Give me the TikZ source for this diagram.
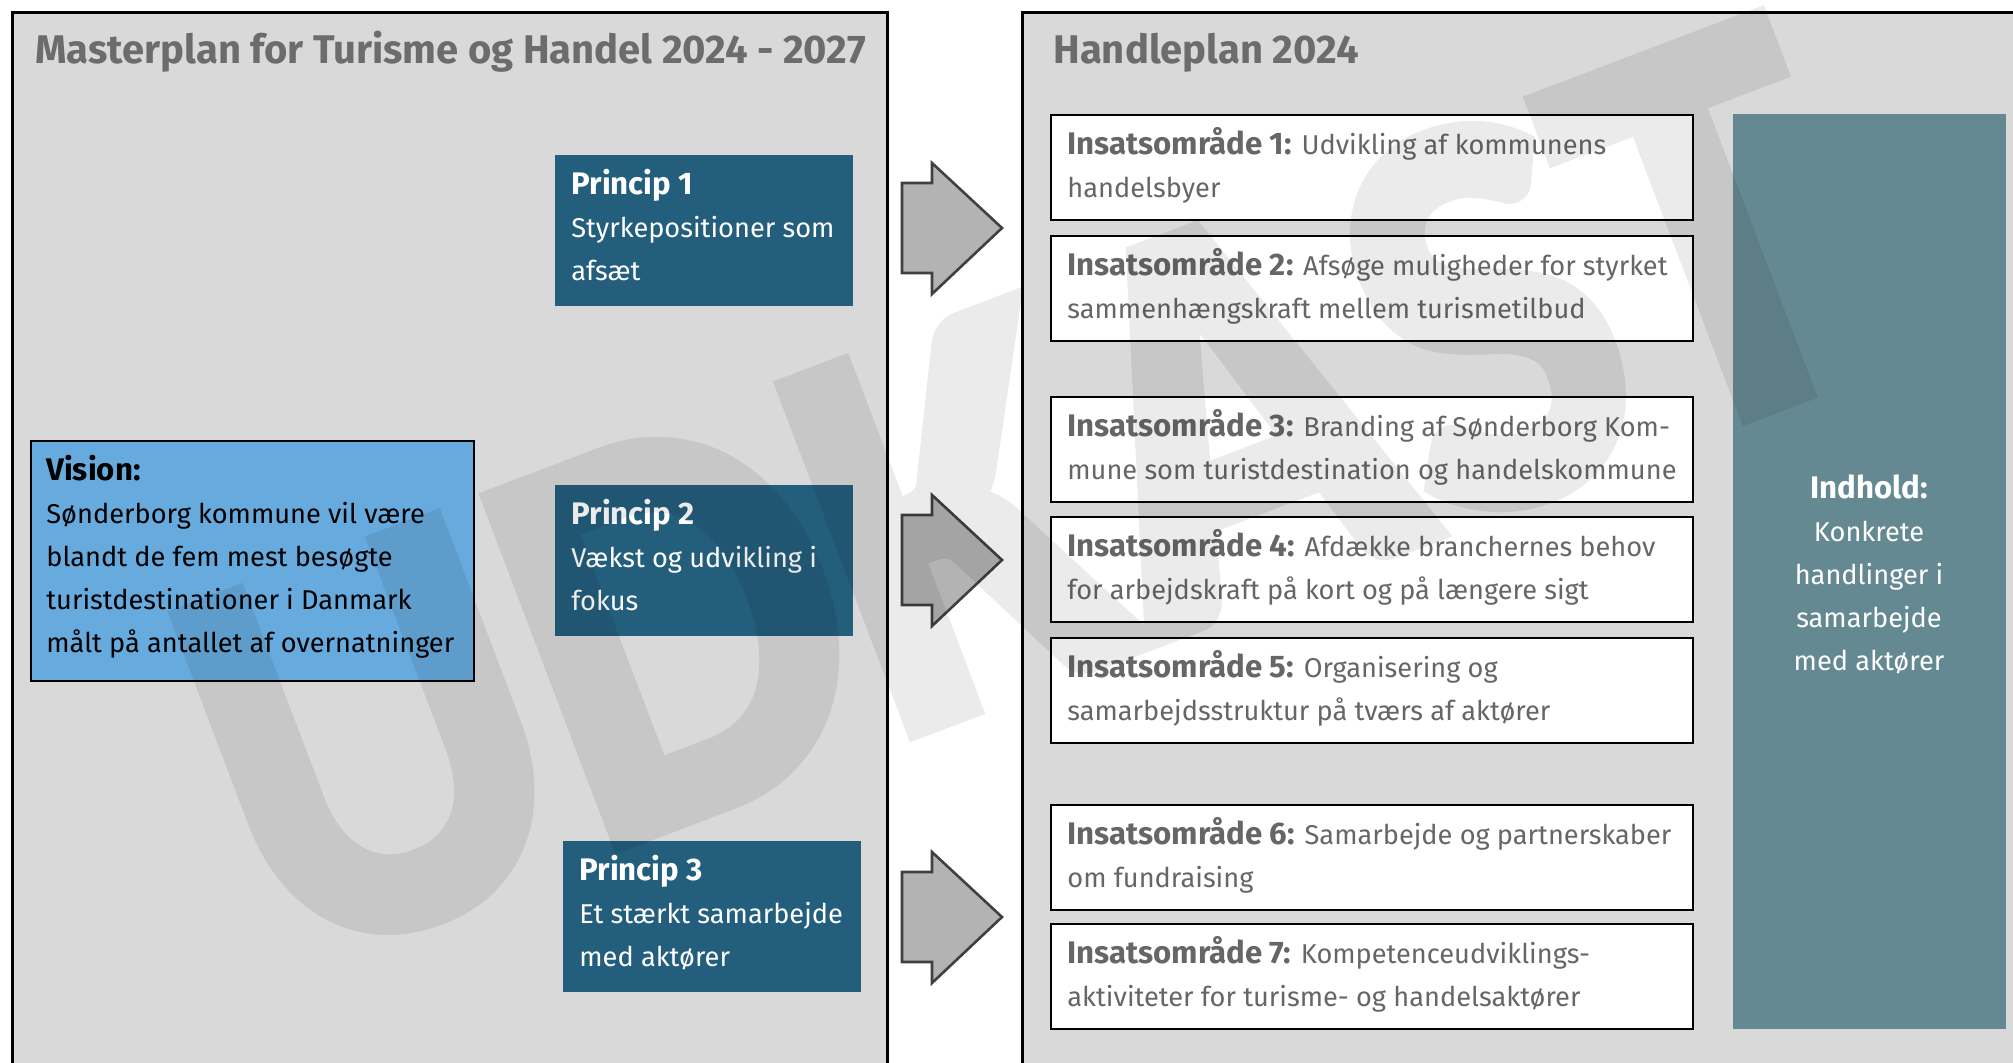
\documentclass[tikz,border=0pt]{standalone}
\usepackage{fontspec}
\setmainfont{Fira Sans}
\newfontfamily\wmfont{Carlito}[FakeBold=3]
\definecolor{panelgray}{RGB}{217,217,217}
\definecolor{princblue}{RGB}{36,94,125}
\definecolor{visionblue}{RGB}{103,170,222}
\definecolor{tealbox}{RGB}{101,137,146}
\definecolor{titlegray}{RGB}{108,108,108}
\definecolor{insgray}{RGB}{102,102,102}
\definecolor{arrowfill}{RGB}{179,179,179}
\definecolor{arrowline}{RGB}{64,64,64}
\newcommand{\hdfont}{\bfseries\fontsize{15.6}{21.5}\selectfont}
\begin{document}
\begin{tikzpicture}[x=0.5pt,y=-0.5pt,
  panel/.style={draw=black, line width=1.5pt, fill=panelgray, anchor=north west, inner sep=0pt},
  princbox/.style={fill=princblue, anchor=north west, inner sep=0pt, minimum width=149pt, minimum height=75.5pt},
  visionbox/.style={fill=visionblue, draw=black, line width=1pt, anchor=north west, inner sep=0pt, minimum width=221.5pt, minimum height=120pt},
  insbox/.style={fill=white, draw=black, line width=1.2pt, anchor=north west, inner sep=0pt, minimum width=321pt, minimum height=52.5pt},
  tealrect/.style={fill=tealbox, anchor=north west, inner sep=0pt, minimum width=136.5pt, minimum height=457.5pt},
  titletext/.style={anchor=base west, inner sep=0pt, text=titlegray, font=\bfseries\fontsize{20}{24}\selectfont},
  bodytext/.style={anchor=base west, inner sep=0pt, align=left, font=\fontsize{13.6}{21.5}\selectfont},
  princtext/.style={bodytext, text=white},
  instext/.style={bodytext, text=insgray},
  bigarrow/.style={fill=arrowfill, draw=arrowline, line width=1.3pt, line join=miter},
  wm/.style={inner sep=0pt, text=black, rotate=20.8, yscale=1.12, font=\wmfont\bfseries\fontsize{254}{254}\selectfont}
]
\useasboundingbox (0,0) rectangle (2013,1062);
\begin{scope}
\clip (0,0) rectangle (2013,1062);
% panels
\node[panel, minimum width=437.5pt, minimum height=534.5pt] (leftpanel) at (11,11) {};
\node[panel, minimum width=504.5pt, minimum height=534.5pt] (rightpanel) at (1021,11) {};
\node[titletext] (title1) at (35,63) {Masterplan for Turisme og Handel 2024 - 2027};
\node[titletext] (title2) at (1053,63) {Handleplan 2024};
% vision (anchor = baseline of last line)
\node[visionbox] (vision) at (30,440) {};
\node[bodytext, text=black] (visiontxt) at (46,652) {{\hdfont Vision:}\\Sønderborg kommune vil være\\blandt de fem mest besøgte\\turistdestinationer i Danmark\\målt på antallet af overnatninger};
% principles
\node[princbox] (p1) at (555,155) {};
\node[princtext] (p1txt) at (571,280) {{\hdfont Princip 1}\\Styrkepositioner som\\afsæt};
\node[princbox] (p2) at (555,485) {};
\node[princtext] (p2txt) at (571,610) {{\hdfont Princip 2}\\Vækst og udvikling i\\fokus};
\node[princbox] (p3) at (563,841) {};
\node[princtext] (p3txt) at (579,966) {{\hdfont Princip 3}\\Et stærkt samarbejde\\med aktører};
% arrows
\foreach \yy in {228,560,917}{
  \draw[bigarrow] (902,\yy-45) -- (932,\yy-45) -- (932,\yy-65) -- (1002,\yy) -- (932,\yy+66) -- (932,\yy+45) -- (902,\yy+45) -- cycle;
}
% insats boxes
\node[insbox] (i1) at (1050,114) {};
\node[instext] (i1txt) at (1067,197) {{\hdfont Insatsområde 1:} Udvikling af kommunens\\handelsbyer};
\node[insbox] (i2) at (1050,235) {};
\node[instext] (i2txt) at (1067,318) {{\hdfont Insatsområde 2:} Afsøge muligheder for styrket\\sammenhængskraft mellem turismetilbud};
\node[insbox] (i3) at (1050,396) {};
\node[instext] (i3txt) at (1067,479) {{\hdfont Insatsområde 3:} Branding af Sønderborg Kom-\\mune som turistdestination og handelskommune};
\node[insbox] (i4) at (1050,516) {};
\node[instext] (i4txt) at (1067,599) {{\hdfont Insatsområde 4:} Afdække branchernes behov\\for arbejdskraft på kort og på længere sigt};
\node[insbox] (i5) at (1050,637) {};
\node[instext] (i5txt) at (1067,720) {{\hdfont Insatsområde 5:} Organisering og\\samarbejdsstruktur på tværs af aktører};
\node[insbox] (i6) at (1050,804) {};
\node[instext] (i6txt) at (1067,887) {{\hdfont Insatsområde 6:} Samarbejde og partnerskaber\\om fundraising};
\node[insbox] (i7) at (1050,923) {};
\node[instext] (i7txt) at (1067,1006) {{\hdfont Insatsområde 7:} Kompetenceudviklings-\\aktiviteter for turisme- og handelsaktører};
% teal column
\node[tealrect] (teal) at (1733,114) {};
\node[bodytext, align=center, anchor=base, text=white] (tealtxt) at (1869,670) {{\hdfont Indhold:}\\Konkrete\\handlinger i\\samarbejde\\med aktører};
% watermark
\begin{scope}[transparency group, opacity=0.08]
\node[wm] (udkast) at (1023,493) {UDKAST};
\end{scope}
\end{scope}
\end{tikzpicture}
\end{document}
